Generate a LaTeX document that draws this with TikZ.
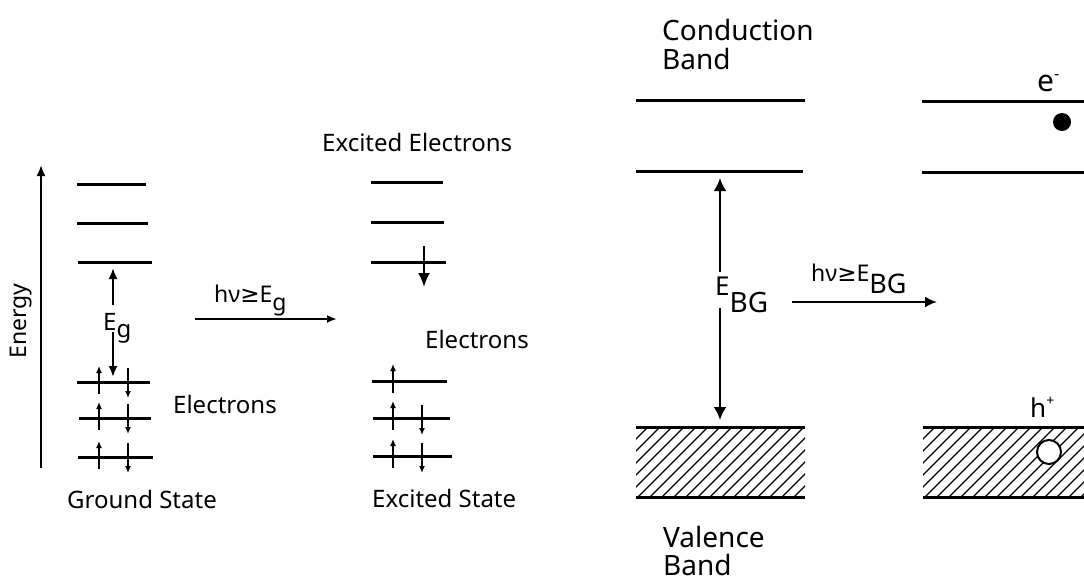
\documentclass[tikz,border=0pt]{standalone}
\usepackage{fontspec}
\setmainfont{Noto Sans}
\newfontfamily\symfont{DejaVu Sans}
\usetikzlibrary{arrows.meta}
\tikzset{
  lvl/.style={line width=3pt},
  spinarrow/.style={line width=1.8pt,-{Latex[length=7pt,width=6pt]}},
  gaparrow/.style={line width=2pt,-{Latex[length=11pt,width=9pt]}},
  bigdown/.style={line width=2.2pt,-{Latex[length=14pt,width=12pt]}},
  axisarrow/.style={line width=2pt,-{Latex[length=11pt,width=9pt]}},
  hvarrow/.style={line width=2pt,-{Latex[length=10pt,width=8pt]}},
  hvbgarrow/.style={line width=2.2pt,-{Latex[length=12pt,width=11pt]}},
  bgarrow/.style={line width=2.4pt,-{Latex[length=13pt,width=13pt]}},
  hatch/.style={line width=1.3pt},
  smalltxt/.style={inner sep=0pt,anchor=base west,font=\fontsize{24}{28}\selectfont},
  bigtxt/.style={inner sep=0pt,anchor=base west,font=\fontsize{28}{32}\selectfont},
}
\begin{document}
\begin{tikzpicture}[x=1pt,y=-1pt]
\useasboundingbox (0,0) rectangle (1084,583);

% ---------- Energy axis ----------
\coordinate (ax0) at (41,468);
\coordinate (ax1) at (41,165);
\draw[axisarrow] (ax0) -- (ax1);
\node[rotate=90,inner sep=0pt,font=\fontsize{23}{27}\selectfont] (energy) at (21,321) {Energy};

% ---------- Left: ground state levels ----------
\foreach \n/\xa/\xb/\y in {u1/77/146/184,u2/77/148/223,u3/78/152/262,d1/77/150/382,d2/79/151/418,d3/78/153/457}{
  \coordinate (L\n a) at (\xa,\y);
  \coordinate (L\n b) at (\xb,\y);
  \draw[lvl] (L\n a) -- (L\n b);
}
% spins (ground state)
\foreach \n/\y in {1/382,2/418,3/457}{
  \coordinate (Lsu\n a) at (99,{\y+12});
  \coordinate (Lsu\n b) at (99,{\y-16});
  \draw[spinarrow] (Lsu\n a) -- (Lsu\n b);
  \coordinate (Lsd\n a) at (128,{\y-14});
  \coordinate (Lsd\n b) at (128,{\y+16});
  \draw[spinarrow] (Lsd\n a) -- (Lsd\n b);
}
% gap arrows
\coordinate (eg1a) at (113,305);
\coordinate (eg1b) at (113,268);
\coordinate (eg2a) at (113,332);
\coordinate (eg2b) at (113,377);
\draw[gaparrow] (eg1a) -- (eg1b);
\draw[gaparrow] (eg2a) -- (eg2b);
\node[smalltxt] (eglabel) at (103,330) {E\raisebox{-7pt}{g}};

\node[smalltxt] (lelec) at (173,413) {Electrons};
\node[smalltxt] (ground) at (67,508) {Ground State};

% hv arrow (left)
\coordinate (hv1a) at (195,319);
\coordinate (hv1b) at (337,319);
\draw[hvarrow] (hv1a) -- (hv1b);
\node[inner sep=0pt,anchor=base west,font=\fontsize{23}{26}\selectfont] (hv1) at (214,302) {hν{\symfont ≥}E\raisebox{-8pt}{g}};

% ---------- Middle: excited state ----------
\node[smalltxt] (exel) at (322,152) {Excited Electrons};
\foreach \n/\xa/\xb/\y in {u1/371/443/182,u2/371/444/222,u3/371/446/262,d1/372/447/381,d2/373/450/418,d3/373/452/456}{
  \coordinate (M\n a) at (\xa,\y);
  \coordinate (M\n b) at (\xb,\y);
  \draw[lvl] (M\n a) -- (M\n b);
}
\coordinate (exa) at (424,246);
\coordinate (exb) at (424,287);
\draw[bigdown] (exa) -- (exb);

\foreach \n/\y in {1/381,2/418,3/456}{
  \coordinate (Msu\n a) at (393,{\y+12});
  \coordinate (Msu\n b) at (393,{\y-17});
  \draw[spinarrow] (Msu\n a) -- (Msu\n b);
}
\foreach \n/\y in {2/418,3/456}{
  \coordinate (Msd\n a) at (422,{\y-13});
  \coordinate (Msd\n b) at (422,{\y+17});
  \draw[spinarrow] (Msd\n a) -- (Msd\n b);
}
\node[smalltxt] (melec) at (425,348) {Electrons};
\node[smalltxt] (excited) at (372,507) {Excited State};

% ---------- Right: band diagram ----------
\node[bigtxt] (cond) at (662,41) {Conduction};
\node[bigtxt] (condb) at (662,70) {Band};

\foreach \n/\xa/\xb/\y in {c1/636/805/101,c2/636/803/171,r1/922/1084/102,r2/922/1084/172}{
  \coordinate (R\n a) at (\xa,\y);
  \coordinate (R\n b) at (\xb,\y);
  \draw[lvl] (R\n a) -- (R\n b);
}

% valence bands (hatched)
\begin{scope}
  \clip (636,427) rectangle (805,497);
  \foreach \x in {554,566,...,806}{
    \draw[hatch] (\x,497) -- ({\x+70},427);
  }
\end{scope}
\begin{scope}
  \clip (923,427) rectangle (1084,497);
  \foreach \x in {841,853,...,1084}{
    \draw[hatch] (\x,497) -- ({\x+70},427);
  }
\end{scope}
\foreach \n/\xa/\xb/\y in {v1/636/805/427,v2/636/805/497,w1/923/1084/427,w2/923/1084/497}{
  \coordinate (V\n a) at (\xa,\y);
  \coordinate (V\n b) at (\xb,\y);
  \draw[lvl] (V\n a) -- (V\n b);
}

\node[bigtxt] (val) at (663,547) {Valence};
\node[bigtxt] (valb) at (663,575) {Band};

% band gap arrows
\coordinate (bg1a) at (720,272);
\coordinate (bg1b) at (720,178);
\coordinate (bg2a) at (720,308);
\coordinate (bg2b) at (720,420);
\draw[bgarrow] (bg1a) -- (bg1b);
\draw[bgarrow] (bg2a) -- (bg2b);
\node[inner sep=0pt,anchor=base west,font=\fontsize{26}{30}\selectfont] (ebg) at (715,295) {E\raisebox{-17pt}{\fontsize{28}{30}\selectfont BG}};

% hv arrow (right)
\coordinate (hv2a) at (792,302);
\coordinate (hv2b) at (937,302);
\draw[hvbgarrow] (hv2a) -- (hv2b);
\node[inner sep=0pt,anchor=base west,font=\fontsize{23}{26}\selectfont] (hv2) at (811,281) {hν{\symfont ≥}E\raisebox{-12pt}{\fontsize{27}{30}\selectfont BG}};

% electron and hole
\node[inner sep=0pt,anchor=base west,font=\fontsize{30}{34}\selectfont] (elabel) at (1037,92) {e\raisebox{12pt}{\fontsize{16}{16}\selectfont -}};
\node[circle,fill=black,inner sep=0pt,minimum size=18pt] (electron) at (1062,122) {};
\node[inner sep=0pt,anchor=base west,font=\fontsize{26}{30}\selectfont] (hlabel) at (1030,417) {h\raisebox{12pt}{\fontsize{14}{14}\selectfont +}};
\node[circle,draw=black,line width=2pt,fill=white,inner sep=0pt,minimum size=24pt] (hole) at (1049,452) {};

\end{tikzpicture}
\end{document}
